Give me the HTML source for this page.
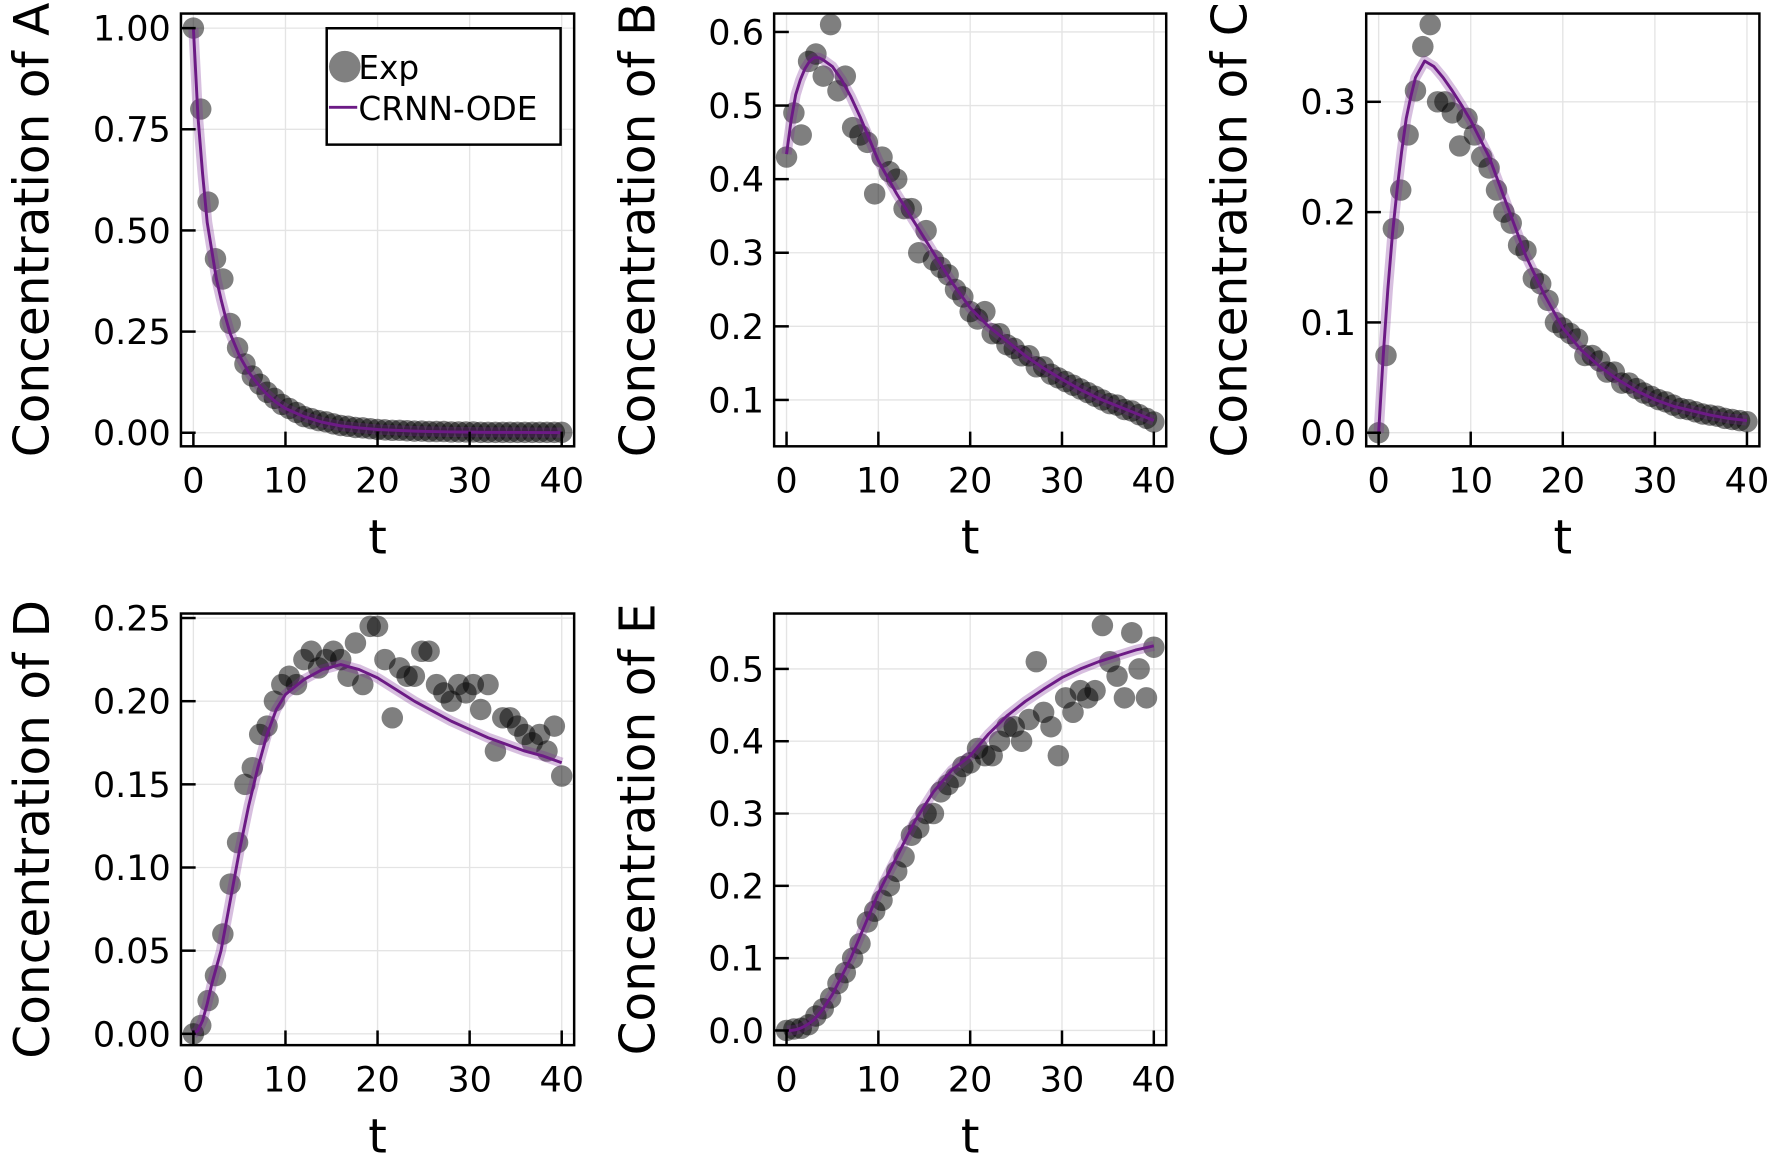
<!DOCTYPE html>
<html><head><meta charset="utf-8"><style>
html,body{margin:0;padding:0;background:#fff;}
svg{display:block;font-family:"DejaVu Sans","Liberation Sans",sans-serif;}
</style></head><body>
<svg id="fig" width="1772" height="1157" viewBox="0 0 1568 1024" xmlns="http://www.w3.org/2000/svg"></svg>
<script>
const dataT = [0,0.8,1.6,2.4,3.2,4,4.8,5.6,6.4,7.2,8,8.8,9.6,10.4,11.2,12,12.8,13.6,14.4,15.2,16,16.8,17.6,18.4,19.2,20,20.8,21.6,22.4,23.2,24,24.8,25.6,26.4,27.2,28,28.8,29.6,30.4,31.2,32,32.8,33.6,34.4,35.2,36,36.8,37.6,38.4,39.2,40];
const modelT = [0,0.5,1,1.5,2,2.5,3,3.5,4,5,6,7,8,9,10,12,14,16,18,20,22,24,26,28,30,32,34,36,38,40];
const expA = [1.0,0.80,0.57,0.43,0.38,0.27,0.21,0.17,0.14,0.12,0.10,0.085,0.07,0.06,0.05,0.04,0.035,0.03,0.027,0.022,0.018,0.016,0.013,0.012,0.01,0.008,0.007,0.006,0.006,0.005,0.004,0.004,0.003,0.003,0.003,0.002,0.002,0.002,0.002,0.001,0.001,0.001,0.001,0.001,0.001,0.001,0.001,0.001,0.001,0.001,0.001];
const expB = [0.43,0.49,0.46,0.56,0.57,0.54,0.61,0.52,0.54,0.47,0.46,0.45,0.38,0.43,0.41,0.40,0.36,0.36,0.30,0.33,0.29,0.28,0.27,0.25,0.24,0.22,0.21,0.22,0.19,0.19,0.175,0.17,0.16,0.16,0.145,0.145,0.135,0.13,0.125,0.12,0.115,0.11,0.105,0.10,0.095,0.093,0.087,0.085,0.08,0.075,0.07];
const expC = [0.0,0.07,0.185,0.22,0.27,0.31,0.35,0.37,0.30,0.30,0.29,0.26,0.285,0.27,0.25,0.24,0.22,0.20,0.19,0.17,0.165,0.14,0.135,0.12,0.10,0.095,0.09,0.085,0.07,0.07,0.065,0.055,0.055,0.045,0.045,0.04,0.036,0.033,0.03,0.028,0.025,0.022,0.021,0.019,0.017,0.016,0.015,0.013,0.012,0.011,0.01];
const expD = [0.0,0.005,0.02,0.035,0.06,0.09,0.115,0.15,0.16,0.18,0.185,0.2,0.21,0.215,0.21,0.225,0.23,0.22,0.225,0.23,0.225,0.215,0.235,0.21,0.245,0.245,0.225,0.19,0.22,0.215,0.215,0.23,0.23,0.21,0.205,0.2,0.21,0.205,0.21,0.195,0.21,0.17,0.19,0.19,0.185,0.18,0.175,0.18,0.17,0.185,0.155];
const expE = [0.0,0.002,0.003,0.008,0.02,0.03,0.045,0.065,0.08,0.1,0.12,0.15,0.165,0.18,0.2,0.22,0.24,0.27,0.28,0.3,0.3,0.33,0.34,0.35,0.365,0.37,0.39,0.38,0.38,0.4,0.42,0.42,0.4,0.43,0.51,0.44,0.42,0.38,0.46,0.44,0.47,0.46,0.47,0.56,0.51,0.49,0.46,0.55,0.5,0.46,0.53];
const modA = [1.0,0.78,0.64,0.52,0.45,0.38,0.33,0.285,0.245,0.19,0.15,0.12,0.095,0.075,0.06,0.04,0.026,0.017,0.012,0.008,0.006,0.004,0.003,0.002,0.0015,0.001,0.001,0.0007,0.0005,0.0003];
const modB = [0.434,0.48,0.515,0.535,0.55,0.56,0.565,0.565,0.562,0.553,0.535,0.512,0.485,0.455,0.425,0.38,0.34,0.30,0.26,0.225,0.20,0.18,0.16,0.143,0.128,0.114,0.102,0.092,0.082,0.072];
const modC = [0,0.07,0.13,0.18,0.22,0.255,0.285,0.305,0.322,0.337,0.332,0.322,0.31,0.297,0.283,0.25,0.205,0.16,0.125,0.095,0.075,0.06,0.048,0.038,0.03,0.024,0.02,0.016,0.013,0.011];
const modD = [0,0.002,0.008,0.018,0.03,0.04,0.05,0.065,0.08,0.11,0.137,0.16,0.18,0.195,0.204,0.213,0.219,0.222,0.219,0.214,0.207,0.2,0.194,0.188,0.183,0.178,0.174,0.17,0.167,0.163];
const modE = [0,0,0.001,0.003,0.006,0.01,0.015,0.022,0.03,0.05,0.075,0.1,0.13,0.16,0.19,0.24,0.29,0.33,0.36,0.38,0.41,0.435,0.455,0.472,0.488,0.5,0.51,0.518,0.526,0.532];
const xTicks = [0,10,20,30,40];
const xTickLabels = ["0","10","20","30","40"];
const ticksA = [0,0.25,0.5,0.75,1.0];
const ticksALabels = ["0.00","0.25","0.50","0.75","1.00"];
const ticksB = [0.1,0.2,0.3,0.4,0.5,0.6];
const ticksBLabels = ["0.1","0.2","0.3","0.4","0.5","0.6"];
const ticksC = [0,0.1,0.2,0.3];
const ticksCLabels = ["0.0","0.1","0.2","0.3"];
const ticksD = [0,0.05,0.1,0.15,0.2,0.25];
const ticksDLabels = ["0.00","0.05","0.10","0.15","0.20","0.25"];
const ticksE = [0,0.1,0.2,0.3,0.4,0.5];
const ticksELabels = ["0.0","0.1","0.2","0.3","0.4","0.5"];

const NS = "http://www.w3.org/2000/svg";
const svg = document.getElementById('fig');
function mk(tag, attrs, parent){ const e=document.createElementNS(NS,tag); for(const k in attrs) e.setAttribute(k,attrs[k]); (parent||svg).appendChild(e); return e; }

const panels = [
 {id:'a', L:160,T:12,R:508,B:395, ymin:-0.0335, ymax:1.036, exp:expA, mod:modA, ticks:ticksA, labels:ticksALabels, title:'Concentration of A', tx:28, legend:true},
 {id:'b', L:685,T:12,R:1032,B:395, ymin:0.037, ymax:0.625, exp:expB, mod:modB, ticks:ticksB, labels:ticksBLabels, title:'Concentration of B', tx:564},
 {id:'c', L:1209,T:12,R:1557,B:395, ymin:-0.0123, ymax:0.38, exp:expC, mod:modC, ticks:ticksC, labels:ticksCLabels, title:'Concentration of C', tx:1088},
 {id:'d', L:160,T:543,R:508,B:925, ymin:-0.0068, ymax:0.2527, exp:expD, mod:modD, ticks:ticksD, labels:ticksDLabels, title:'Concentration of D', tx:28},
 {id:'e', L:685,T:543,R:1032,B:925, ymin:-0.0203, ymax:0.5766, exp:expE, mod:modE, ticks:ticksE, labels:ticksELabels, title:'Concentration of E', tx:564}
];
const XMIN=-1.35, XMAX=41.35;

panels.forEach(p=>{
  const g = mk('g',{});
  
  
  const xs = v => p.L + (v-XMIN)/(XMAX-XMIN)*(p.R-p.L);
  const ys = v => p.B - (v-p.ymin)/(p.ymax-p.ymin)*(p.B-p.T);
  xTicks.forEach(t=>{
    const l=mk('line',{x1:xs(t),x2:xs(t),y1:p.T,y2:p.B,stroke:'#e4e4e4','stroke-width':1.2},g);
    
    
  });
  p.ticks.forEach(t=>{
    const l=mk('line',{x1:p.L,x2:p.R,y1:ys(t),y2:ys(t),stroke:'#e4e4e4','stroke-width':1.2},g);
    
    
  });
  const cp = mk('clipPath',{id:'clip'+p.id},g);
  mk('rect',{x:p.L,y:p.T,width:p.R-p.L,height:p.B-p.T},cp);
  const plot = mk('g',{'clip-path':'url(#clip'+p.id+')'},g);
  dataT.forEach((t,i)=>{
    const c=mk('circle',{cx:xs(t),cy:ys(p.exp[i]),r:9.5,fill:'#000','fill-opacity':0.5},plot);
    
    
  });
  const d = modelT.map((t,i)=>(i?'L':'M')+xs(t).toFixed(2)+','+ys(p.mod[i]).toFixed(2)).join(' ');
  const rib=mk('path',{d:d,fill:'none',stroke:'#7a2a96','stroke-opacity':0.3,'stroke-width':9,'stroke-linejoin':'round'},plot);
  
  
  const ln=mk('path',{d:d,fill:'none',stroke:'#6c1a85','stroke-width':2.6,'stroke-linejoin':'round'},plot);
  
  
  const fr=mk('rect',{x:p.L,y:p.T,width:p.R-p.L,height:p.B-p.T,fill:'none',stroke:'#000','stroke-width':2.2},g);
  
  
  xTicks.forEach((t,i)=>{
    mk('line',{x1:xs(t),x2:xs(t),y1:p.B,y2:p.B-13,stroke:'#000','stroke-width':2.2},g);
    const tx=mk('text',{x:xs(t),y:p.B+41,'text-anchor':'middle','font-size':31,fill:'#000'},g);
    tx.textContent=xTickLabels[i];
    
    
  });
  p.ticks.forEach((t,i)=>{
    mk('line',{x1:p.L,x2:p.L+13,y1:ys(t),y2:ys(t),stroke:'#000','stroke-width':2.2},g);
    const tx=mk('text',{x:p.L-9,y:ys(t)+11,'text-anchor':'end','font-size':31,fill:'#000'},g);
    tx.textContent=p.labels[i];
    
    
  });
  const xt=mk('text',{x:(p.L+p.R)/2,y:p.B+95,'text-anchor':'middle','font-size':42,fill:'#000'},g);
  xt.textContent='t';
  
  
  const cy=(p.T+p.B)/2;
  const yt=mk('text',{x:p.tx,y:cy,'text-anchor':'middle','font-size':43,fill:'#000',transform:'rotate(-90 '+p.tx+' '+cy+') translate(0 15)'},g);
  yt.textContent=p.title;
  
  
  if(p.legend){
    const lg=mk('g',{},g);
    
    
    mk('rect',{x:289,y:25,width:207,height:103,fill:'#fff',stroke:'#000','stroke-width':2.2},lg);
    const m=mk('circle',{cx:305,cy:59,r:14,fill:'#808080'},lg);
    
    
    const t1=mk('text',{x:317,y:70,'font-size':29,fill:'#000'},lg);
    t1.textContent='Exp';
    
    
    const ml=mk('line',{x1:291,x2:316,y1:95,y2:95,stroke:'#6c1a85','stroke-width':2.5},lg);
    
    
    const t2=mk('text',{x:317,y:106,'font-size':29,fill:'#000'},lg);
    t2.textContent='CRNN-ODE';
    
    
  }
});
</script>
</body></html>
